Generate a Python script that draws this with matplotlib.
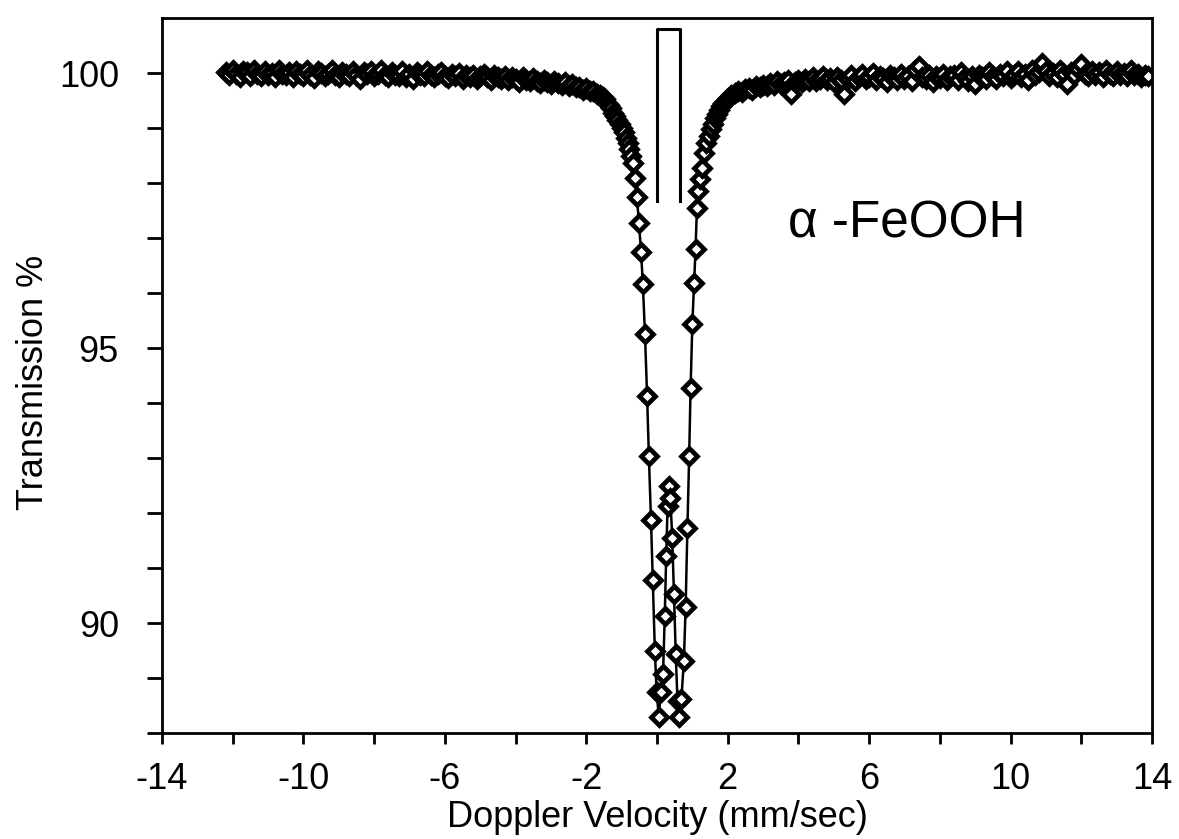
import numpy as np
import matplotlib
matplotlib.use('Agg')
import matplotlib.pyplot as plt

plt.rcParams['font.family'] = ['Liberation Sans', 'DejaVu Sans']
plt.rcParams['axes.unicode_minus'] = False

# left baseline, channels from -12.2 to -1.6 mm/s (0.1 step)
left_start, left_step = -12.2, 0.1
left_T = [
    100.02, 99.96, 100.05, 99.98, 99.93, 100.04, 100.01, 99.95, 100.06, 99.99,
    99.94, 100.03, 99.97, 100.00, 99.92, 100.05, 99.98, 99.96, 100.02, 99.93,
    100.04, 99.99, 99.95, 100.06, 99.97, 99.91, 100.03, 100.00, 99.94, 99.98,
    100.05, 99.96, 99.92, 100.02, 99.99, 99.95, 100.04, 99.97, 99.90, 100.01,
    99.98, 100.03, 99.94, 99.99, 100.05, 99.96, 99.92, 100.02, 99.97, 99.95,
    100.03, 99.93, 99.98, 99.90, 100.01, 99.96, 99.94, 100.04, 99.97, 99.92,
    99.99, 100.02, 99.94, 99.91, 99.98, 99.95, 100.00, 99.89, 99.96, 99.93,
    99.97, 99.90, 99.95, 99.99, 99.92, 99.88, 99.96, 99.93, 99.90, 99.94,
    99.87, 99.93, 99.90, 99.84, 99.92, 99.88, 99.85, 99.91, 99.86, 99.82,
    99.88, 99.84, 99.80, 99.86, 99.81, 99.78, 99.83, 99.76, 99.80, 99.74,
    99.75, 99.70, 99.73, 99.67, 99.68, 99.62, 99.60,
]

# absorption doublet region
dip_v = [
    -1.54, -1.48, -1.42, -1.36, -1.30, -1.24, -1.18, -1.12, -1.06, -1.00,
    -0.94, -0.88, -0.83, -0.78, -0.73, -0.68, -0.62, -0.57, -0.51, -0.45,
    -0.40, -0.34, -0.28, -0.23, -0.17, -0.12, -0.06, -0.01, 0.05, 0.11,
    0.17, 0.22, 0.26, 0.30, 0.34, 0.38, 0.43, 0.48, 0.53, 0.58,
    0.63, 0.69, 0.76, 0.81, 0.86, 0.91, 0.95, 1.00, 1.05, 1.09,
    1.13, 1.17, 1.22, 1.28, 1.34, 1.40, 1.46, 1.52, 1.58, 1.64,
    1.70, 1.76, 1.82, 1.88, 1.94,
]
dip_T = [
    99.56, 99.52, 99.46, 99.41, 99.36, 99.28, 99.22, 99.15, 99.07, 99.00,
    98.92, 98.82, 98.72, 98.62, 98.50, 98.36, 98.09, 97.75, 97.27, 96.75,
    96.16, 95.25, 94.13, 93.04, 91.87, 90.78, 89.49, 88.75, 88.30, 88.75,
    89.07, 90.13, 91.22, 92.13, 92.49, 92.27, 91.55, 90.53, 89.44, 88.58,
    88.30, 88.62, 89.31, 90.29, 91.73, 93.04, 94.27, 95.44, 96.18, 96.80,
    97.55, 97.85, 98.07, 98.27, 98.55, 98.73, 98.86, 98.98, 99.08, 99.18,
    99.26, 99.33, 99.40, 99.45, 99.50,
]

# right baseline, channels from 2.0 to 13.9 mm/s (0.1 step)
right_start, right_step = 2.0, 0.1
right_T = [
    99.55, 99.60, 99.63, 99.67, 99.65, 99.71, 99.73, 99.70, 99.76, 99.74,
    99.79, 99.76, 99.82, 99.78, 99.85, 99.80, 99.83, 99.87, 99.62, 99.84,
    99.88, 99.83, 99.90, 99.86, 99.92, 99.85, 99.89, 99.94, 99.87, 99.91,
    99.84, 99.93, 99.88, 99.62, 99.90, 99.96, 99.86, 99.92, 99.98, 99.89,
    99.93, 100.00, 99.87, 99.95, 99.91, 99.84, 99.97, 99.92, 99.88, 99.99,
    99.90, 99.94, 99.86, 100.05, 100.13, 99.93, 99.89, 99.97, 99.84, 99.95,
    99.91, 99.99, 99.87, 99.94, 99.96, 99.88, 100.01, 99.92, 99.86, 99.95,
    99.80, 99.97, 99.93, 99.89, 100.02, 99.95, 99.90, 99.98, 99.94, 100.03,
    99.91, 99.96, 100.04, 99.93, 99.99, 99.88, 100.06, 99.97, 100.01, 100.18,
    100.03, 99.95, 100.00, 99.92, 100.05, 99.98, 99.80, 100.02, 99.96, 100.07,
    100.16, 99.99, 99.94, 100.04, 99.97, 100.01, 99.93, 100.06, 99.98, 99.95,
    100.03, 99.97, 100.00, 99.94, 100.05, 99.96, 99.99, 99.93, 99.97, 99.95,
]

# line-position marker (open box above the doublet)
box_v = [0.0, 0.0, 0.66, 0.66]
box_T = [97.67, 100.8, 100.8, 97.67]

left_v = left_start + left_step * np.arange(len(left_T))
right_v = right_start + right_step * np.arange(len(right_T))
v = np.concatenate([left_v, dip_v, right_v])
T = np.concatenate([left_T, dip_T, right_T])

fig = plt.figure(figsize=(11.79, 8.39), dpi=100)
ax = fig.add_axes([0.1374, 0.1263, 0.8397, 0.8522])

ax.plot(v, T, color='black', lw=1.8, marker='D', ms=8,
        mfc='white', mec='black', mew=3.4)
ax.plot(box_v, box_T, color='black', lw=2.2)

ax.text(3.7, 97.25, 'α -FeOOH', fontsize=37, va='center', ha='left')

ax.set_xlim(-14, 14)
ax.set_ylim(88, 101)
ax.set_xticks(np.arange(-14, 15, 4))
ax.set_xticks(np.arange(-14, 15, 2), minor=True)
ax.set_yticks([90, 95, 100])
ax.set_yticks(np.arange(88, 101, 1), minor=True)

ax.tick_params(axis='both', which='both', direction='out', width=2,
               labelsize=26, color='black')
ax.tick_params(axis='x', which='both', length=8, pad=13)
ax.tick_params(axis='y', which='both', length=11, pad=20)
for s in ax.spines.values():
    s.set_linewidth(2)

ax.set_xlabel('Doppler Velocity (mm/sec)', fontsize=26)
ax.set_ylabel('Transmission %', fontsize=26)
ax.xaxis.set_label_coords(0.5, -0.094)
ax.yaxis.set_label_coords(-0.112, 0.49)

fig.savefig('out.png', dpi=100)
